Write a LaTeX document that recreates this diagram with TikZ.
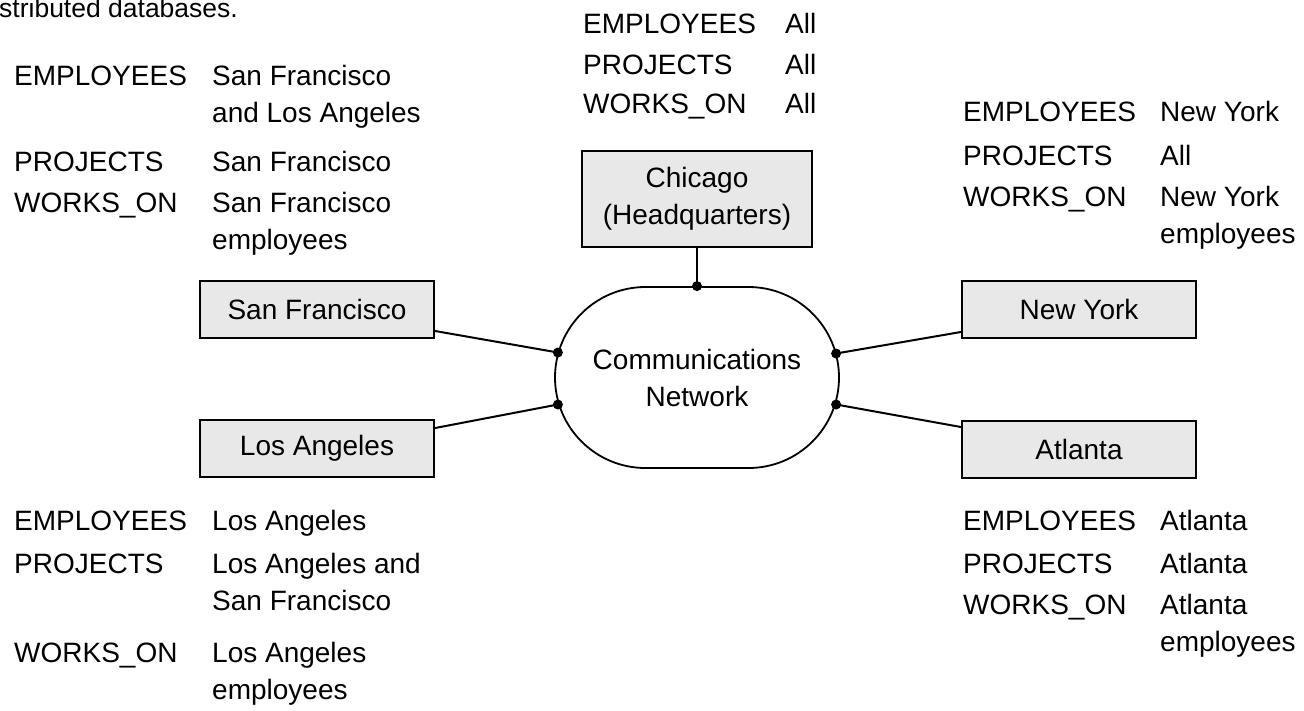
\documentclass[tikz,border=0pt]{standalone}
\usepackage{fontspec}
\setmainfont{Liberation Sans}
\usetikzlibrary{positioning,shapes.misc}

\begin{document}
\begin{tikzpicture}[x=1pt, y=-1pt, every node/.style={font=\fontsize{28}{37}\selectfont, inner sep=0pt}]
  \tikzset{
    site/.style={draw, line width=2.2pt, fill=gray!18, minimum width=234pt, minimum height=57pt},
    link/.style={line width=2pt},
    dot/.style={circle, fill, minimum size=10pt},
    lab/.style={anchor=base west},
  }
  \useasboundingbox (0,0) rectangle (1304,710);

  %----- fragment entries (name, x label, x value, baseline, relation, sites) -----
  \def\entry#1#2#3#4#5#6{
    \node[lab] (#1-l) at (#2,#4) {#5};
    \node[lab] (#1-v) at (#3,#4) {\begin{tabular}[t]{@{}l@{}}#6\end{tabular}};
  }

  %----- caption remnant -----
  \node[lab, font=\fontsize{26.5}{32}\selectfont] (cap) at (-1,17) {stributed databases.};

  %----- network and sites -----
  \node[draw, rounded rectangle, line width=1.8pt, minimum width=284pt,
        minimum height=181pt, align=center] (net) at (697,377.5) {Communications\\Network};
  \node[site, minimum width=230pt, minimum height=96pt, align=center] (chi) at (697,199) {Chicago\\(Headquarters)};
  \node[site] (sf)  at (317,309.5)  {San Francisco};
  \node[site] (la)  at (317,448.5)  {Los Angeles};
  \node[site] (ny)  at (1079,309.5) {New York};
  \node[site] (atl) at (1079,449.5) {Atlanta};

  %----- connection points -----
  \node[dot] (dchi) at (net.north) {};
  \node[dot] (dsf)  at ([shift={(3.8pt,25pt)}]net.west) {};
  \node[dot] (dla)  at ([shift={(3.8pt,-27pt)}]net.west) {};
  \node[dot] (dny)  at ([shift={(-3.8pt,24pt)}]net.east) {};
  \node[dot] (datl) at ([shift={(-3.8pt,-27pt)}]net.east) {};

  \draw[link] (chi) -- (dchi.center);
  \draw[link] ([yshift=-21.5pt]sf.east) -- (dsf.center);
  \draw[link] ([yshift=20.5pt]la.east) -- (dla.center);
  \draw[link] ([yshift=-22.5pt]ny.west) -- (dny.center);
  \draw[link] ([yshift=22.5pt]atl.west) -- (datl.center);

  %----- Chicago -----
  \entry{chiE}{583}{785}{33}{EMPLOYEES}{All}
  \entry{chiP}{583}{785}{74}{PROJECTS}{All}
  \entry{chiW}{583}{785}{113}{WORKS\_ON}{All}

  %----- San Francisco -----
  \entry{sfE}{14}{212}{85}{EMPLOYEES}{San Francisco\\and Los Angeles}
  \entry{sfP}{14}{212}{171}{PROJECTS}{San Francisco}
  \entry{sfW}{14}{212}{212}{WORKS\_ON}{San Francisco\\employees}

  %----- Los Angeles -----
  \entry{laE}{14}{212}{530}{EMPLOYEES}{Los Angeles}
  \entry{laP}{14}{212}{573}{PROJECTS}{Los Angeles and\\San Francisco}
  \entry{laW}{14}{212}{662}{WORKS\_ON}{Los Angeles\\employees}

  %----- New York -----
  \entry{nyE}{963}{1160}{121}{EMPLOYEES}{New York}
  \entry{nyP}{963}{1160}{165}{PROJECTS}{All}
  \entry{nyW}{963}{1160}{206}{WORKS\_ON}{New York\\employees}

  %----- Atlanta -----
  \entry{atlE}{963}{1160}{530}{EMPLOYEES}{Atlanta}
  \entry{atlP}{963}{1160}{573}{PROJECTS}{Atlanta}
  \entry{atlW}{963}{1160}{614}{WORKS\_ON}{Atlanta\\employees}
\end{tikzpicture}
\end{document}
